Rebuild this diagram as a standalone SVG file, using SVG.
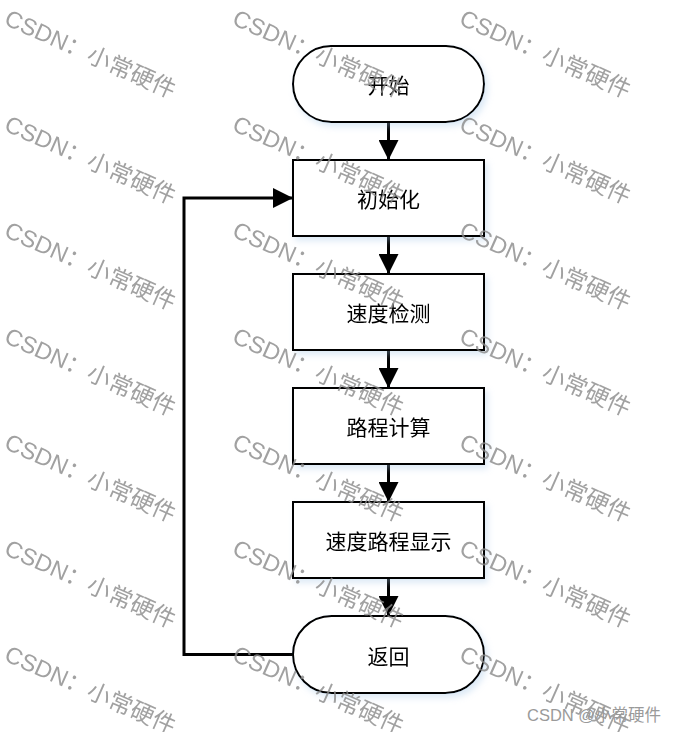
<svg xmlns="http://www.w3.org/2000/svg" xmlns:xlink="http://www.w3.org/1999/xlink" width="677" height="732" viewBox="0 0 677 732">
<defs>
<style>
.shape{fill:#fff;stroke:#000;stroke-width:2}
.lbl{font-family:"Noto Sans CJK SC","Liberation Sans",sans-serif;font-size:21px;fill:#000;text-anchor:middle;dominant-baseline:central}
.conn{stroke:#000;stroke-width:3;fill:none}
.wm{font-family:"Liberation Sans","Noto Sans CJK SC",sans-serif;font-size:23.5px;fill:#8a8a8a;opacity:0.8}
</style>
<filter id="sh" x="-10%" y="-10%" width="130%" height="140%">
<feGaussianBlur in="SourceAlpha" stdDeviation="3"/>
<feOffset dx="3" dy="4" result="b"/>
<feFlood flood-color="#9ec3e6" flood-opacity="0.35"/>
<feComposite in2="b" operator="in"/>
<feMerge><feMergeNode/><feMergeNode in="SourceGraphic"/></feMerge>
</filter>
<marker id="arr" markerWidth="20" markerHeight="20" viewBox="0 0 20 20" refX="20" refY="10" orient="auto" markerUnits="userSpaceOnUse">
<path d="M0,0 L20,10 L0,20 Z" fill="#000"/>
</marker>
<text id="w" class="wm">CSDN：小常硬件</text>
</defs>
<rect width="677" height="732" fill="#fff"/>

<g id="connectors">
<line class="conn" x1="388.5" y1="122" x2="388.5" y2="160" marker-end="url(#arr)"/>
<line class="conn" x1="388.5" y1="236" x2="388.5" y2="274" marker-end="url(#arr)"/>
<line class="conn" x1="388.5" y1="350" x2="388.5" y2="388" marker-end="url(#arr)"/>
<line class="conn" x1="388.5" y1="464" x2="388.5" y2="502" marker-end="url(#arr)"/>
<line class="conn" x1="388.5" y1="578" x2="388.5" y2="616" marker-end="url(#arr)"/>
<polyline class="conn" points="293,654.5 184,654.5 184,198 293,198" marker-end="url(#arr)"/>
</g>

<g id="start" filter="url(#sh)">
<rect class="shape" x="293" y="46" width="191" height="76" rx="38" ry="38"/>
<text class="lbl" x="388.5" y="84">开始</text>
</g>
<g id="init" filter="url(#sh)">
<rect class="shape" x="293" y="160" width="191" height="76"/>
<text class="lbl" x="388.5" y="198">初始化</text>
</g>
<g id="speed" filter="url(#sh)">
<rect class="shape" x="293" y="274" width="191" height="76"/>
<text class="lbl" x="388.5" y="312">速度检测</text>
</g>
<g id="distance" filter="url(#sh)">
<rect class="shape" x="293" y="388" width="191" height="76"/>
<text class="lbl" x="388.5" y="426">路程计算</text>
</g>
<g id="display" filter="url(#sh)">
<rect class="shape" x="293" y="502" width="191" height="76"/>
<text class="lbl" x="388.5" y="540">速度路程显示</text>
</g>
<g id="return" filter="url(#sh)">
<rect class="shape" x="293" y="616" width="191" height="77" rx="38.5" ry="38.5"/>
<text class="lbl" x="388.5" y="654.5">返回</text>
</g>

<g id="watermarks">
<use xlink:href="#w" transform="translate(3,24) rotate(24)"/>
<use xlink:href="#w" transform="translate(231,24) rotate(24)"/>
<use xlink:href="#w" transform="translate(458,24) rotate(24)"/>
<use xlink:href="#w" transform="translate(3,130) rotate(24)"/>
<use xlink:href="#w" transform="translate(231,130) rotate(24)"/>
<use xlink:href="#w" transform="translate(458,130) rotate(24)"/>
<use xlink:href="#w" transform="translate(3,236) rotate(24)"/>
<use xlink:href="#w" transform="translate(231,236) rotate(24)"/>
<use xlink:href="#w" transform="translate(458,236) rotate(24)"/>
<use xlink:href="#w" transform="translate(3,342) rotate(24)"/>
<use xlink:href="#w" transform="translate(231,342) rotate(24)"/>
<use xlink:href="#w" transform="translate(458,342) rotate(24)"/>
<use xlink:href="#w" transform="translate(3,448) rotate(24)"/>
<use xlink:href="#w" transform="translate(231,448) rotate(24)"/>
<use xlink:href="#w" transform="translate(458,448) rotate(24)"/>
<use xlink:href="#w" transform="translate(3,554) rotate(24)"/>
<use xlink:href="#w" transform="translate(231,554) rotate(24)"/>
<use xlink:href="#w" transform="translate(458,554) rotate(24)"/>
<use xlink:href="#w" transform="translate(3,660) rotate(24)"/>
<use xlink:href="#w" transform="translate(231,660) rotate(24)"/>
<use xlink:href="#w" transform="translate(458,660) rotate(24)"/>
</g>
<text x="527" y="721" style="font-family:'Liberation Sans','Noto Sans CJK SC',sans-serif;font-size:16.5px;fill:#9a9a9a">CSDN @小常硬件</text>
</svg>
